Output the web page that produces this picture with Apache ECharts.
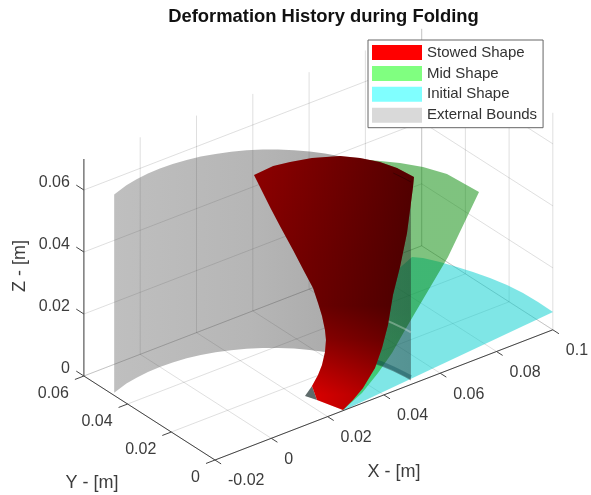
<!DOCTYPE html>
<html>
<head>
<meta charset="utf-8">
<style>html,body{margin:0;padding:0;background:#fff}#c{width:591px;height:495px}</style>
<script src="https://cdn.jsdelivr.net/npm/echarts@6/dist/echarts.min.js"></script>
</head>
<body>
<div id="c"></div>
<script>
// ---- axis ticks ----
const xTicks = [-0.02, 0, 0.02, 0.04, 0.06, 0.08, 0.1];
const yTicks = [0, 0.02, 0.04, 0.06];
const zTicks = [0, 0.02, 0.04, 0.06];
const xTickLabels = ['-0.02', '0', '0.02', '0.04', '0.06', '0.08', '0.1'];
const yTickLabels = ['0', '0.02', '0.04', '0.06'];
const zTickLabels = ['0', '0.02', '0.04', '0.06'];
const zTop = 0.07;

// ---- surfaces, metres ----
const stowedX = [0.0249,0.0317,0.0377,0.0416,0.0477,0.0509,0.0541,0.0563,0.05845,0.0581,0.05442,0.05037,0.0471,0.04533,0.04243,0.03917,0.03413,0.0298,0.02547,0.02245,0.02377,0.02824,0.03198,0.0346,0.03883,0.03847,0.0413,0.03988,0.0381,0.03526,0.03488,0.03062,0.03094,0.02774];
const stowedY = [0.04,0.04,0.04,0.035,0.03,0.025,0.02,0.015,0.01,0.01,0.008,0.006,0.005,0.005,0.004,0.003,0.002,0.001,0,0.008,0.012,0.015,0.018,0.02,0.025,0.025,0.03,0.03,0.03,0.03,0.035,0.035,0.04,0.04];
const stowedZ = [0.05815,0.0587,0.05787,0.06003,0.06082,0.06132,0.06116,0.06071,0.05932,0.05621,0.04356,0.03492,0.02748,0.01842,0.01247,0.00761,0.00338,0.00147,0.0002,0.00088,0.00313,0.00376,0.00432,0.0067,0.00683,0.01018,0.01145,0.01614,0.0216,0.02743,0.03273,0.04132,0.04507,0.052];

const tipX = [0.02377,0.02212,0.02245];
const tipY = [0.012,0.01307,0.008];
const tipZ = [0.00313,0,0.00088];

const midX = [0.06144,0.06611,0.07289,0.07718,0.08181,0.08543,0.07208,0.0562,0.05293,0.04675,0.04101,0.03377,0.02547,0.04769];
const midY = [0.05,0.04,0.035,0.03,0.025,0.015,0.012,0.008,0.007,0.005,0.004,0.002,0,0.03];
const midZ = [0.04408,0.04857,0.04748,0.04697,0.04532,0.04278,0.02784,0.01552,0.01325,0.0089,0.0049,0.00189,0.0002,0.0047];

const initialX = [0.02547,0.1062,0.10634,0.10613,0.10535,0.104,0.10231,0.10049,0.09845,0.09607,0.094,0.085];
const initialY = [0,0.0079,0.01494,0.02154,0.02785,0.0339,0.0395,0.04448,0.04963,0.05434,0.0567,0.0529];
const initialZ = [0,0,0,0,0,0,0,0,0,0,0,0];

const boundsX = [-0.0191,-0.0132,-0.0089,-0.0044,0,0.0044,0.0089,0.0132,0.0174,0.0216,0.0255,0.0293,0.0328,0.0361,0.0391,0.0418,0.0442,0.0462,0.0479,0.0493,0.0502,0.0508,0.051];
const boundsY = [0.0473,0.0493,0.0502,0.0508,0.051,0.0508,0.0502,0.0493,0.0479,0.0462,0.0442,0.0418,0.0391,0.0361,0.0328,0.0293,0.0255,0.0216,0.0174,0.0132,0.0089,0.0044,0.0018];
const boundsZLow = 0;
const boundsZHigh = 0.064;
const bandLowZ = 0.001;
const bandHighZ = 0.0155;

const seriesNames = ['Stowed Shape', 'Mid Shape', 'Initial Shape', 'External Bounds'];
const legendColors = ['#ff0000', '#80ff80', '#80ffff', '#d9d9d9'];

// ---- fixed MATLAB-like view: orthographic projection ----
function project(x, y, z) {
  return [215 + 2815 * (x + 0.02) - 2185 * y,
          460 - 1085 * (x + 0.02) - 1400 * y - 3100 * z];
}
const FONT = '"Liberation Sans", Arial, sans-serif';
const grad = (x, y, x2, y2, stops) => ({type:'linear', x, y, x2, y2,
  colorStops: stops.map(s => ({offset:s[0], color:s[1]}))});

function pts(api, xs, ys, zs) {
  return xs.map((x, i) => api.coord(project(x, ys[i], typeof zs === 'number' ? zs : zs[i])));
}
function poly(points, fill, z2) {
  return {type:'polygon', shape:{points}, style:{fill, stroke:null}, z2:z2||0, silent:true};
}
function polyline(points, stroke, w, z2) {
  return {type:'polyline', shape:{points}, style:{fill:null, stroke, lineWidth:w}, z2:z2||0, silent:true};
}
function seg(api, a, b, stroke, w) {
  const p = api.coord(project(a[0],a[1],a[2])), q = api.coord(project(b[0],b[1],b[2]));
  return {type:'line', shape:{x1:p[0],y1:p[1],x2:q[0],y2:q[1]}, style:{stroke, lineWidth:w}, silent:true};
}
function label(p, dx, dy, text, align, size, rot) {
  return {type:'text', x:p[0]+dx, y:p[1]+dy, rotation:rot||0, silent:true,
    style:{text, x:0, y:0, align, verticalAlign:'middle', fill:'#3c3c3c', font:(size||16)+'px '+FONT}};
}

const GRID = 'rgba(38,38,38,0.15)';
const AXIS = '#454545';
const xMin = xTicks[0], xMax = xTicks[xTicks.length-1], yMax = yTicks[yTicks.length-1];

function renderGrid(params, api) {
  const c = [];
  xTicks.forEach(x => {
    c.push(seg(api,[x,0,0],[x,yMax,0],GRID,1));
    c.push(seg(api,[x,yMax,0],[x,yMax,zTop],GRID,1));
  });
  yTicks.forEach(y => {
    c.push(seg(api,[xMin,y,0],[xMax,y,0],GRID,1));
    c.push(seg(api,[xMax,y,0],[xMax,y,zTop],GRID,1));
  });
  zTicks.forEach(z => {
    c.push(seg(api,[xMin,yMax,z],[xMax,yMax,z],GRID,1));
    c.push(seg(api,[xMax,0,z],[xMax,yMax,z],GRID,1));
  });
  return {type:'group', children:c};
}
function renderAxes(params, api) {
  const c = [];
  c.push(seg(api,[xMin,0,0],[xMax,0,0],AXIS,1));
  c.push(seg(api,[xMin,0,0],[xMin,yMax,0],AXIS,1));
  c.push(seg(api,[xMin,yMax,0],[xMin,yMax,zTop],AXIS,1));
  xTicks.forEach((x,i) => {
    c.push(seg(api,[x,0,0],[x,-0.0028,0],AXIS,1));
    c.push(label(api.coord(project(x,0,0)),13,21,xTickLabels[i],'left'));
  });
  yTicks.forEach((y,i) => {
    c.push(seg(api,[xMin,y,0],[xMin-0.0032,y,0],AXIS,1));
    c.push(label(api.coord(project(xMin,y,0)),-15,18,yTickLabels[i],'right'));
  });
  zTicks.forEach((z,i) => {
    c.push(seg(api,[xMin,yMax,z],[xMin,yMax+0.0035,z],AXIS,1));
    c.push(label(api.coord(project(xMin,yMax,z)),-14,-7,zTickLabels[i],'right'));
  });
  c.push(label(api.coord([394,472]),0,0,'X - [m]','center',18));
  c.push(label(api.coord([92,483]),0,0,'Y - [m]','center',18));
  c.push(label(api.coord([20,266]),0,0,'Z - [m]','center',18,Math.PI/2));
  return {type:'group', children:c};
}
function renderInitial(params, api) {
  return poly(pts(api, initialX, initialY, initialZ), 'rgba(0,205,205,0.5)');
}
function renderMid(params, api) {
  return poly(pts(api, midX, midY, midZ),
    grad(0,0,0,1,[[0,'rgba(0,135,0,0.5)'],[0.6,'rgba(0,135,0,0.5)'],[0.85,'rgba(0,175,10,0.5)'],[1,'rgba(0,195,30,0.5)']]));
}
function renderBounds(params, api) {
  const low = pts(api, boundsX, boundsY, boundsZLow);
  const high = pts(api, boundsX, boundsY, boundsZHigh);
  const outline = high.concat(low.slice().reverse());
  const c = [poly(outline,
    grad(0,0,1,0,[[0,'rgba(95,95,95,0.4)'],[0.46,'rgba(72,72,72,0.4)'],[1,'rgba(22,22,22,0.4)']]))];
  const from = boundsX.length - 5;
  c.push(polyline(pts(api, boundsX.slice(from), boundsY.slice(from), bandLowZ), 'rgba(0,70,80,0.35)', 4, 1));
  c.push(polyline(pts(api, boundsX.slice(from), boundsY.slice(from), bandHighZ), 'rgba(255,255,255,0.3)', 2, 1));
  return {type:'group', children:c};
}
function renderStowed(params, api) {
  const outline = pts(api, stowedX, stowedY, stowedZ);
  const from = boundsX.length - 3;
  return {type:'group', children:[
    poly(pts(api, tipX, tipY, tipZ), '#5f6b6b', 0),
    poly(outline, grad(0,0,0,1,[[0,'#8f0000'],[0.41,'#820000'],[0.59,'#7e0000'],[0.72,'#a20000'],[0.85,'#db0000'],[0.94,'#ff0000'],[1,'#ff0000']]), 1),
    poly(outline, grad(0,0,1,0,[[0,'rgba(0,0,0,0)'],[1,'rgba(0,0,0,0.42)']]), 2),
    polyline(pts(api, boundsX.slice(from), boundsY.slice(from), boundsZHigh), 'rgba(0,0,0,0.3)', 1, 3)
  ]};
}

const one = [[0, 0]];
const base = {type:'custom', coordinateSystem:'cartesian2d', data:one, silent:true, animation:false,
  encode:{x:0, y:1}, clip:false};

const option = {
  animation:false,
  backgroundColor:'#fff',
  title:{text:'Deformation History during Folding', left:318.5, top:3, textAlign:'center',
    textStyle:{fontFamily:FONT, fontWeight:'bold', fontSize:18.4, color:'#111'}},
  grid:{left:0, right:0, top:0, bottom:0, containLabel:false},
  xAxis:{type:'value', min:0, max:591, show:false},
  yAxis:{type:'value', min:0, max:495, inverse:true, show:false},
  legend:{
    orient:'vertical', left:368, top:40, padding:[5,6,5,4], itemWidth:50, itemHeight:15, itemGap:5.9, itemStyle:{borderWidth:0},
    icon:'rect', selectedMode:false, backgroundColor:'#fff', borderColor:'#666', borderWidth:1, borderRadius:0,
    textStyle:{fontFamily:FONT, fontSize:15, color:'#333', padding:[0,0,0,0]},
    data:seriesNames.map((n,i)=>({name:n, icon:'rect', itemStyle:{color:legendColors[i], opacity:1}}))
  },
  series:[
    Object.assign({}, base, {name:'grid', z:1, renderItem:renderGrid}),
    Object.assign({}, base, {name:seriesNames[2], z:2, itemStyle:{color:legendColors[2]}, renderItem:renderInitial}),
    Object.assign({}, base, {name:seriesNames[1], z:3, itemStyle:{color:legendColors[1]}, renderItem:renderMid}),
    Object.assign({}, base, {name:seriesNames[3], z:4, itemStyle:{color:legendColors[3]}, renderItem:renderBounds}),
    Object.assign({}, base, {name:seriesNames[0], z:5, itemStyle:{color:legendColors[0]}, renderItem:renderStowed}),
    Object.assign({}, base, {name:'axes', z:6, renderItem:renderAxes})
  ]
};
echarts.init(document.getElementById('c'), null, {renderer:'canvas'}).setOption(option);
</script>
</body>
</html>
